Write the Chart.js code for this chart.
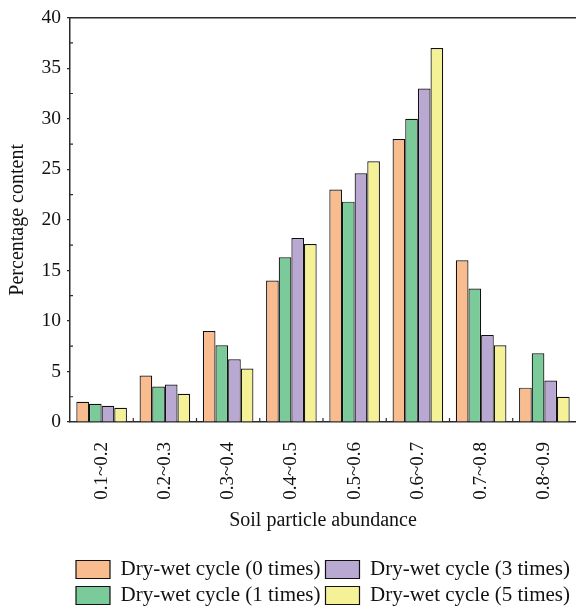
<!DOCTYPE html>
<html>
<head>
<meta charset="utf-8">
<script src="https://cdn.jsdelivr.net/npm/chart.js@4.4.1/dist/chart.umd.min.js"></script>
<style>
  html, body { margin: 0; padding: 0; background: #fff; }
  #wrap { width: 576px; height: 608px; position: relative; }
</style>
</head>
<body>
<div id="wrap"><canvas id="soil"></canvas></div>
<script>
// particle abundance bins
const categories = ['0.1~0.2', '0.2~0.3', '0.3~0.4', '0.4~0.5', '0.5~0.6', '0.6~0.7', '0.7~0.8', '0.8~0.9']

// percentage content per number of dry-wet cycles
const cycle0 = [2.0, 4.6, 9.0, 14.0, 23.0, 28.0, 16.0, 3.4]
const cycle1 = [1.8, 3.5, 7.6, 16.3, 21.8, 30.0, 13.2, 6.8]
const cycle3 = [1.6, 3.7, 6.2, 18.2, 24.6, 33.0, 8.6, 4.1]
const cycle5 = [1.4, 2.8, 5.3, 17.6, 25.8, 37.0, 7.6, 2.5]

const seriesNames = ['Dry-wet cycle (0 times)', 'Dry-wet cycle (1 times)', 'Dry-wet cycle (3 times)', 'Dry-wet cycle (5 times)']
const seriesColors = ['#F9BC8E', '#7BCA9A', '#B9A8D2', '#F5F197']
// legend reads down the columns: 0, 1 on the left / 3, 5 on the right
const legendOrder = [0, 2, 1, 3]

const yTicks = [0, 5, 10, 15, 20, 25, 30, 35, 40]
const yMinorTicks = [2.5, 7.5, 12.5, 17.5, 22.5, 27.5, 32.5, 37.5]

const FONT = "'Liberation Serif', 'Times New Roman', serif"
const AXIS = '#2b2b2b'

// frame line on top, small inward ticks on both axes
const axisDecor = {
  id: 'axisDecor',
  afterDraw(chart) {
    const ctx = chart.ctx
    const a = chart.chartArea
    const x = chart.scales.x
    const y = chart.scales.y
    ctx.save()
    ctx.strokeStyle = AXIS
    ctx.lineWidth = 1.5
    ctx.beginPath()
    ctx.moveTo(a.left - 0.75, a.top)
    ctx.lineTo(a.right, a.top)
    ctx.stroke()
    ctx.lineWidth = 1.2
    ctx.beginPath()
    yMinorTicks.forEach(function (v) {
      let py = y.getPixelForValue(v)
      ctx.moveTo(a.left, py)
      ctx.lineTo(a.left + 3, py)
    })
    for (let i = 1; i < categories.length; i++) {
      let px = (x.getPixelForValue(i - 1) + x.getPixelForValue(i)) / 2
      ctx.moveTo(px, a.bottom)
      ctx.lineTo(px, a.bottom - 4)
    }
    ctx.stroke()
    ctx.restore()
  }
}

const datasets = [cycle0, cycle1, cycle3, cycle5].map(function (values, i) {
  return {
    label: seriesNames[i],
    data: values,
    backgroundColor: seriesColors[i],
    borderColor: '#111',
    borderWidth: 1.2,
    borderSkipped: 'bottom',
    categoryPercentage: 0.8,
    barPercentage: 1.0
  }
})

new Chart(document.getElementById('soil'), {
  type: 'bar',
  data: { labels: categories, datasets: datasets },
  plugins: [axisDecor],
  options: {
    responsive: true,
    maintainAspectRatio: false,
    animation: false,
    layout: { padding: { top: 15, right: 0, left: 0, bottom: -8 } },
    plugins: {
      tooltip: { enabled: false },
      legend: {
        position: 'bottom',
        fullSize: false,
        labels: {
          boxWidth: 34,
          boxHeight: 18,
          padding: 5,
          color: '#111',
          font: { family: FONT, size: 21 },
          sort: function (a, b) {
            return legendOrder.indexOf(a.datasetIndex) - legendOrder.indexOf(b.datasetIndex)
          }
        }
      }
    },
    scales: {
      x: {
        offset: true,
        grid: { display: false },
        border: { display: true, color: AXIS, width: 1.5 },
        ticks: {
          minRotation: 90,
          maxRotation: 90,
          autoSkip: false,
          padding: 12,
          color: '#111',
          font: { family: FONT, size: 19 }
        },
        title: {
          display: true,
          text: 'Soil particle abundance',
          color: '#111',
          font: { family: FONT, size: 20 },
          padding: { top: 0, bottom: 21 }
        },
        afterFit: function (scale) {
          scale.height = 132
          scale.paddingLeft = 0
          scale.paddingRight = 0
        }
      },
      y: {
        min: 0,
        max: 40,
        afterBuildTicks: function (scale) {
          scale.ticks = yTicks.map(function (v) { return { value: v } })
        },
        grid: { drawOnChartArea: false, drawTicks: true, tickLength: 3, color: AXIS, lineWidth: 1.2 },
        border: { display: true, color: AXIS, width: 1.5 },
        ticks: {
          padding: 6,
          color: '#111',
          font: { family: FONT, size: 19.5 }
        },
        title: {
          display: true,
          text: 'Percentage content',
          color: '#111',
          font: { family: FONT, size: 20 },
          padding: { top: 6, bottom: 0 }
        },
        afterFit: function (scale) { scale.width = 70 }
      }
    }
  }
})
</script>
</body>
</html>
